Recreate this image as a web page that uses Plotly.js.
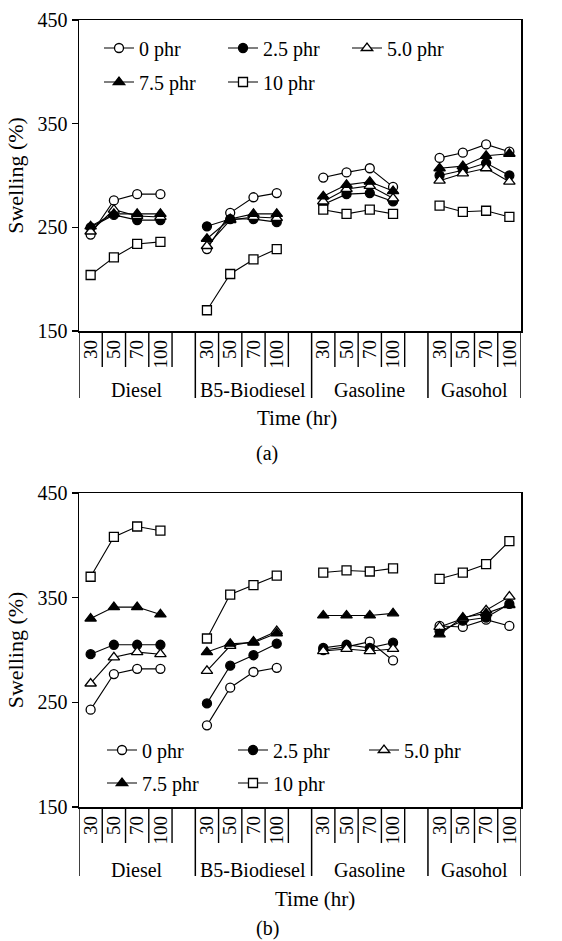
<!DOCTYPE html>
<html><head><meta charset="utf-8">
<script src="https://cdn.plot.ly/plotly-3.0.1.min.js"></script>
<style>html,body{margin:0;padding:0;background:#fff}#chart{width:562px;height:941px}</style>
</head><body><div id="chart"></div>
<script>
// ---- data ----
const fuels = ['Diesel', 'B5-Biodiesel', 'Gasoline', 'Gasohol'];
const times = ['30', '50', '70', '100'];
const seriesNames = ['0 phr', '2.5 phr', '5.0 phr', '7.5 phr', '10 phr'];

// Panel (a): values per fuel (Diesel, B5-Biodiesel, Gasoline, Gasohol) x time (30,50,70,100)
const a_0phr  = [243, 276, 282, 282,  229, 264, 279, 283,  298, 303, 307, 289,  317, 322, 330, 323];
const a_25phr = [250, 262, 257, 257,  251, 258, 258, 255,  272, 282, 283, 275,  300, 305, 312, 300];
const a_50phr = [246, 267, 261, 260,  232, 257, 260, 259,  275, 287, 290, 278,  295, 302, 307, 294];
const a_75phr = [251, 263, 263, 263,  239, 258, 263, 263,  280, 291, 294, 285,  307, 309, 319, 321];
const a_10phr = [204, 221, 234, 236,  170, 205, 219, 229,  267, 263, 267, 263,  271, 265, 266, 260];

// Panel (b)
const b_0phr  = [243, 277, 282, 282,  228, 264, 279, 283,  300, 303, 308, 290,  323, 322, 329, 323];
const b_25phr = [296, 305, 305, 305,  249, 285, 295, 306,  302, 305, 302, 307,  318, 328, 331, 344];
const b_50phr = [268, 293, 298, 296,  280, 304, 308, 318,  299, 301, 299, 301,  322, 330, 338, 351];
const b_75phr = [330, 341, 341, 334,  298, 306, 307, 316,  333, 333, 333, 335,  315, 331, 335, 343];
const b_10phr = [370, 408, 418, 414,  311, 353, 362, 371,  374, 376, 375, 378,  368, 374, 382, 404];

const panelA = [a_0phr, a_25phr, a_50phr, a_75phr, a_10phr];
const panelB = [b_0phr, b_25phr, b_50phr, b_75phr, b_10phr];

// ---- styles ----
const symbols = ['circle', 'circle', 'triangle-up', 'triangle-up', 'square'];
const fills = ['#fff', '#000', '#fff', '#000', '#fff'];
const sizes = [9, 9, 10, 10, 9];
const FONT = '"Liberation Serif", "Times New Roman", Times, serif';

const SLOTS = 5; // 4 times + 1 spacer per fuel group
const nSlots = fuels.length * SLOTS - 1;

function buildXY(vals) {
  const x = [], y = [];
  fuels.forEach((f, g) => {
    times.forEach((t, k) => { x.push(g * SLOTS + k); y.push(vals[g * times.length + k]); });
    if (g < fuels.length - 1) { x.push(g * SLOTS + times.length); y.push(null); }
  });
  return {x, y};
}

const traces = [];
[panelA, panelB].forEach((panel, p) => {
  panel.forEach((vals, i) => {
    const xy = buildXY(vals);
    const legendName = p === 0 ? (i < 3 ? 'legend' : 'legend2') : (i < 3 ? 'legend3' : 'legend4');
    traces.push({
      x: xy.x, y: xy.y, type: 'scatter', mode: 'lines+markers', name: seriesNames[i],
      xaxis: p === 0 ? 'x' : 'x2', yaxis: p === 0 ? 'y' : 'y2',
      legend: legendName, connectgaps: false, cliponaxis: false,
      line: {color: '#000', width: 1.1},
      marker: {symbol: symbols[i], size: sizes[i], color: fills[i], line: {color: '#000', width: 1.3}}
    });
  });
});

// ---- layout geometry ----
const W = 562, H = 941, ML = 79, MR = 41, MT = 20, MB = 134;
const PH = H - MT - MB; // 787
const PW = W - ML - MR; // 442
const aBottomPx = 331, bTopPx = 493;
const dA0 = (H - MB - aBottomPx) / PH;
const dB1 = (H - MB - bTopPx) / PH;
const px = v => v / PH;

const tickvals = [], ticktext = [];
fuels.forEach((f, g) => times.forEach((t, k) => { tickvals.push(g * SLOTS + k); ticktext.push(t); }));

function xAxis(anchor) {
  return {
    anchor, domain: [0, 1], range: [-0.5, nSlots - 0.5], tickvals, ticktext, tickangle: -90,
    ticks: '', showline: true, mirror: true, linecolor: '#000', linewidth: 1.5,
    showgrid: false, zeroline: false, tickfont: {family: FONT, size: 19, color: '#000'}, fixedrange: true
  };
}
function yAxis(anchor, domain) {
  return {
    anchor, domain, range: [150, 450], tickvals: [150, 250, 350, 450],
    ticks: 'outside', ticklen: 6, tickwidth: 1.2, tickcolor: '#000',
    showline: true, mirror: true, linecolor: '#000', linewidth: 1.5,
    showgrid: false, zeroline: false, tickfont: {family: FONT, size: 20, color: '#000'},
    title: {text: 'Swelling (%)', font: {family: FONT, size: 22, color: '#000'}, standoff: 8}
  };
}

const shapes = [], annotations = [];
function decorate(xref, yb, sepLen, grpOff, timeX, timeOff, caption, capOff) {
  fuels.forEach((f, g) => {
    times.forEach((t, k) => {
      const xv = g * SLOTS + k + 0.5;
      if (xv < nSlots - 0.5) {
        shapes.push({type: 'line', xref, yref: 'paper', x0: xv, x1: xv, y0: yb, y1: yb - px(36), line: {color: '#000', width: 1.4}});
      }
    });
    const left = g * SLOTS - 0.5;
    const right = Math.min(g * SLOTS + SLOTS - 0.5, nSlots - 0.5);
    shapes.push({type: 'line', xref, yref: 'paper', x0: left, x1: left, y0: yb, y1: yb - px(sepLen), line: {color: '#000', width: 1.5}});
    annotations.push({text: f, xref, yref: 'paper', x: (left + right) / 2, y: yb - px(grpOff), yanchor: 'middle', xanchor: 'center', showarrow: false, font: {family: FONT, size: 20, color: '#000'}});
  });
  shapes.push({type: 'line', xref, yref: 'paper', x0: nSlots - 0.5, x1: nSlots - 0.5, y0: yb, y1: yb - px(sepLen), line: {color: '#000', width: 1.5}});
  annotations.push({text: 'Time (hr)', xref: 'paper', yref: 'paper', x: timeX, y: yb - px(timeOff), xanchor: 'center', yanchor: 'middle', showarrow: false, font: {family: FONT, size: 21, color: '#000'}});
  annotations.push({text: caption, xref: 'paper', yref: 'paper', x: (267 - ML) / PW, y: yb - px(capOff), xanchor: 'center', yanchor: 'middle', showarrow: false, font: {family: FONT, size: 20, color: '#000'}});
}
decorate('x', dA0, 67, 59, (297 - ML) / PW, 87, '(a)', 122);
decorate('x2', 0, 69, 63, (315 - ML) / PW, 92, '(b)', 121);

function legendAt(xPx, yPx, entry) {
  return {
    orientation: 'h', x: (xPx - ML) / PW, xanchor: 'left', y: (H - MB - yPx) / PH, yanchor: 'middle',
    entrywidth: entry, entrywidthmode: 'pixels', bgcolor: 'rgba(0,0,0,0)', borderwidth: 0,
    font: {family: FONT, size: 20, color: '#000'}, itemclick: false, itemdoubleclick: false
  };
}

const layout = {
  width: W, height: H, margin: {l: ML, r: MR, t: MT, b: MB},
  paper_bgcolor: '#fff', plot_bgcolor: '#fff',
  font: {family: FONT, color: '#000'},
  xaxis: xAxis('y'), yaxis: yAxis('x', [dA0, 1]),
  xaxis2: xAxis('y2'), yaxis2: yAxis('x2', [0, dB1]),
  legend: legendAt(99, 48, 79), legend2: legendAt(99, 82, 79),
  legend3: legendAt(102, 750, 86), legend4: legendAt(102, 783, 86),
  shapes, annotations
};

Plotly.newPlot('chart', traces, layout, {displayModeBar: false, staticPlot: true});
</script>
</body></html>
